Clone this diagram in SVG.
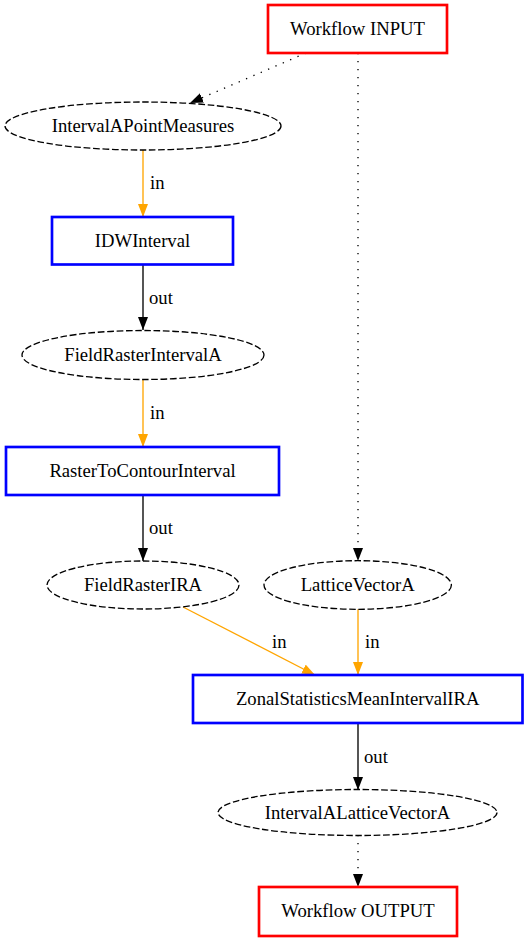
<svg xmlns="http://www.w3.org/2000/svg" width="528" height="941" viewBox="0 0 528 941">
<style>
text{font-family:"Liberation Serif","Times New Roman",serif;font-size:18.67px;fill:#000}
.n text{text-anchor:middle}
.proc{fill:#fff;stroke:#0000ff;stroke-width:2.67}
.io{fill:#fff;stroke:#ff0000;stroke-width:2.67}
.data{fill:#fff;stroke:#000;stroke-width:1.33;stroke-dasharray:6.67,2.67}
.e{fill:none;stroke-width:1.33}
.blk{stroke:#000}
.org{stroke:#ffa500}
.dot{stroke:#000;stroke-dasharray:1.33,6.67}
</style>
<defs>
<marker id="ab" viewBox="0 0 13 10" refX="13" refY="5" markerUnits="userSpaceOnUse" markerWidth="13" markerHeight="10" orient="auto">
<path d="M0,0 L13,5 L0,10 z" fill="#000"/>
</marker>
<marker id="ao" viewBox="0 0 13 10" refX="13" refY="5" markerUnits="userSpaceOnUse" markerWidth="13" markerHeight="10" orient="auto">
<path d="M0,0 L13,5 L0,10 z" fill="#ffa500"/>
</marker>
</defs>
<rect width="528" height="941" fill="#fff"/>
<g id="edges">
<path class="e dot" d="M306,53 L190,103" marker-end="url(#ab)"/>
<path class="e dot" d="M358,53 L358,561" marker-end="url(#ab)"/>
<path class="e org" d="M143,150 L143,217" marker-end="url(#ao)"/>
<text x="150" y="189">in</text>
<path class="e blk" d="M143,264.5 L143,330" marker-end="url(#ab)"/>
<text x="149" y="304">out</text>
<path class="e org" d="M143,380 L143,447" marker-end="url(#ao)"/>
<text x="150" y="419">in</text>
<path class="e blk" d="M143,495 L143,561" marker-end="url(#ab)"/>
<text x="149" y="534">out</text>
<path class="e org" d="M183,607 L315,675" marker-end="url(#ao)"/>
<text x="272" y="648">in</text>
<path class="e org" d="M358,609 L358,675" marker-end="url(#ao)"/>
<text x="365" y="648">in</text>
<path class="e blk" d="M358,723 L358,790" marker-end="url(#ab)"/>
<text x="364" y="763">out</text>
<path class="e dot" d="M358,835 L358,887" marker-end="url(#ab)"/>
</g>
<g id="WorkflowINPUT" class="n"><rect class="io" x="268" y="5" width="179" height="48"/><text x="357.5" y="35">Workflow INPUT</text></g>
<g id="IntervalAPointMeasures" class="n"><ellipse class="data" cx="143" cy="126" rx="138" ry="24"/><text x="143" y="132">IntervalAPointMeasures</text></g>
<g id="IDWInterval" class="n"><rect class="proc" x="52" y="217" width="181" height="47.5"/><text x="142.5" y="247">IDWInterval</text></g>
<g id="FieldRasterIntervalA" class="n"><ellipse class="data" cx="143" cy="355" rx="121" ry="24.5"/><text x="143" y="361">FieldRasterIntervalA</text></g>
<g id="RasterToContourInterval" class="n"><rect class="proc" x="6" y="447" width="273" height="48"/><text x="142.5" y="477">RasterToContourInterval</text></g>
<g id="FieldRasterIRA" class="n"><ellipse class="data" cx="143" cy="585" rx="96" ry="24"/><text x="143" y="591">FieldRasterIRA</text></g>
<g id="LatticeVectorA" class="n"><ellipse class="data" cx="357.7" cy="585" rx="93.7" ry="24.3"/><text x="357.7" y="591">LatticeVectorA</text></g>
<g id="ZonalStatisticsMeanIntervalIRA" class="n"><rect class="proc" x="193" y="675" width="329.5" height="48"/><text x="357.7" y="705">ZonalStatisticsMeanIntervalIRA</text></g>
<g id="IntervalALatticeVectorA" class="n"><ellipse class="data" cx="357.5" cy="812.5" rx="139.5" ry="23"/><text x="357.5" y="818.5">IntervalALatticeVectorA</text></g>
<g id="WorkflowOUTPUT" class="n"><rect class="io" x="259" y="887" width="198" height="49"/><text x="358" y="917">Workflow OUTPUT</text></g>
</svg>
